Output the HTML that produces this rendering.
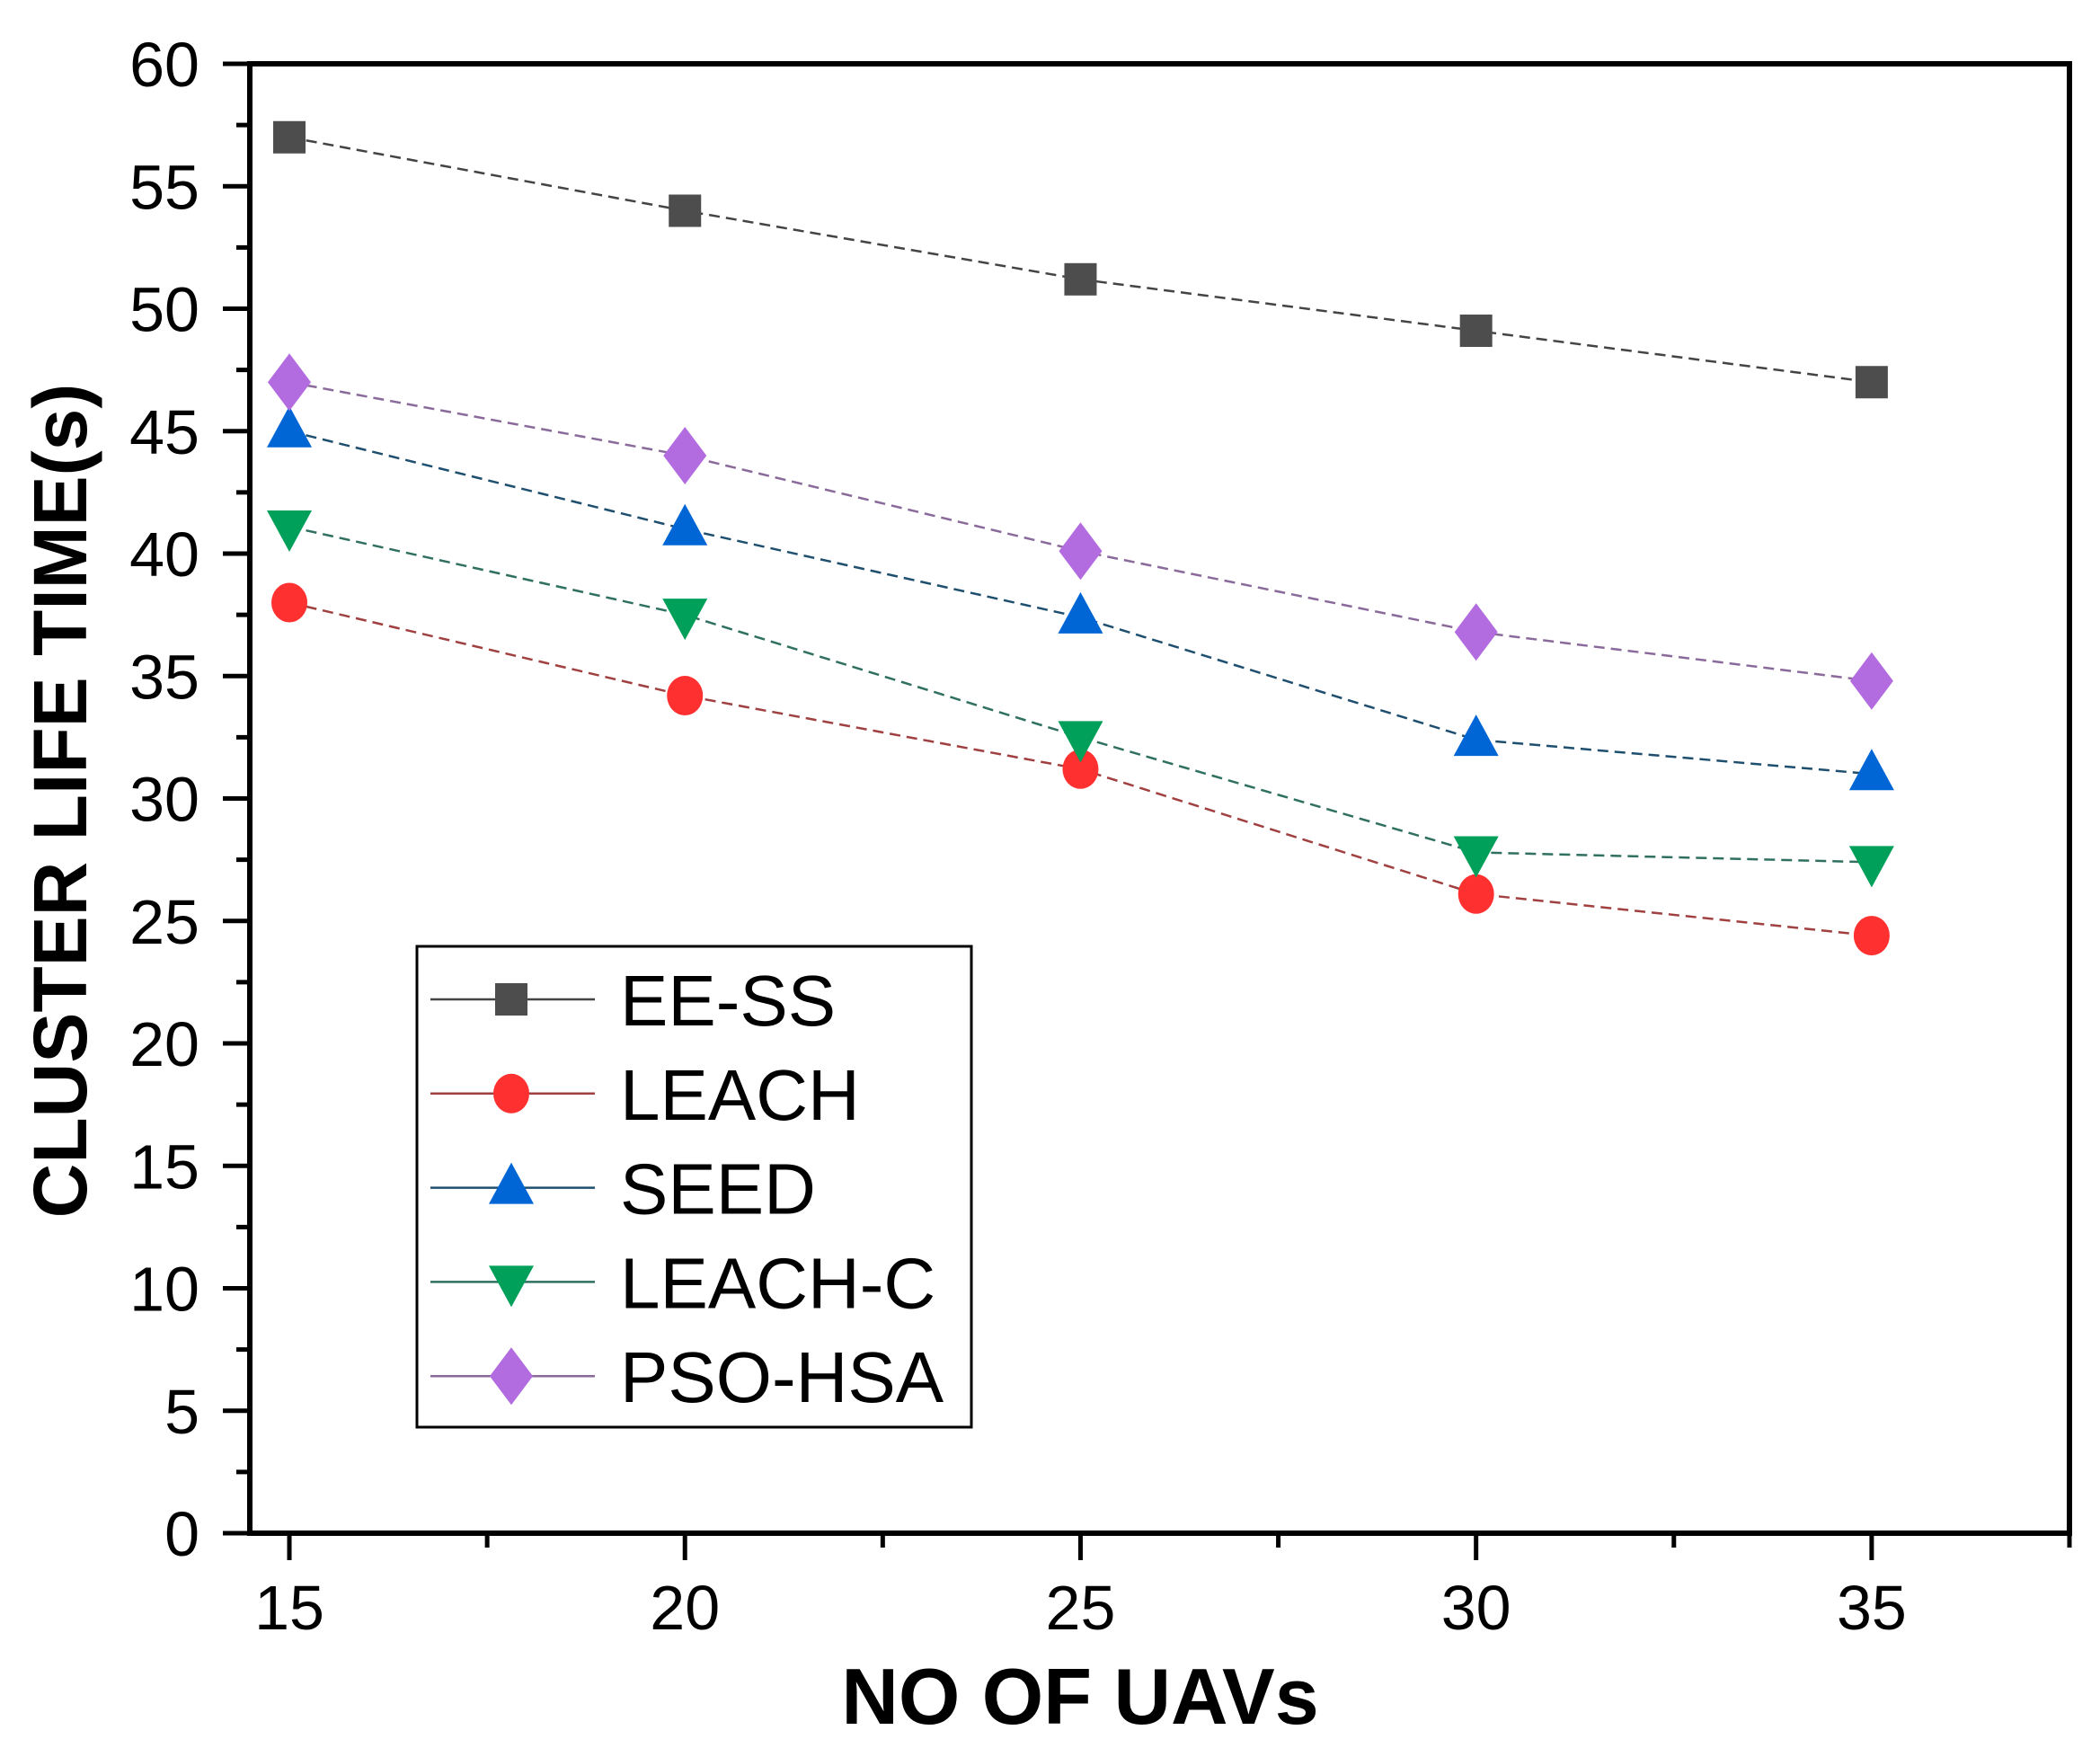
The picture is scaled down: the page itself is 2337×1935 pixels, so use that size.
<!DOCTYPE html>
<html><head><meta charset="utf-8">
<style>
html,body{margin:0;padding:0;background:#fff;}
svg{display:block;}
text{font-family:"Liberation Sans",Arial,sans-serif;}
</style></head>
<body>
<svg id="chart" width="2337" height="1935" viewBox="0 0 2337 1935" xmlns="http://www.w3.org/2000/svg">
<rect x="0" y="0" width="2337" height="1935" fill="#fff"/>
<g id="series"></g>
<g id="axes"></g>
<text x="1202" y="1918" font-size="88" font-weight="bold" text-anchor="middle">NO OF UAVs</text>
<text transform="translate(96,891) rotate(-90)" font-size="84" font-weight="bold" text-anchor="middle">CLUSTER LIFE TIME(s)</text>
<g id="legend"></g>
</svg>
<script>
const categories = [15, 20, 25, 30, 35];
const seriesNames = ["EE-SS", "LEACH", "SEED", "LEACH-C", "PSO-HSA"];
const eeSS = [57, 54, 51.2, 49.1, 47];
const leach = [38, 34.2, 31.2, 26.1, 24.4];
const seed = [45, 41, 37.4, 32.4, 31];
const leachC = [41.1, 37.5, 32.5, 27.8, 27.4];
const psoHSA = [47, 44, 40.1, 36.8, 34.8];
const xTicks = [15, 20, 25, 30, 35];
const xMinorTicks = [17.5, 22.5, 27.5, 32.5, 37.5];
const yTicks = [0, 5, 10, 15, 20, 25, 30, 35, 40, 45, 50, 55, 60];

const NS = "http://www.w3.org/2000/svg";
const L = 278, R = 2303, T = 71, B = 1706;
const xMin = 14.5, xMax = 37.5, yMin = 0, yMax = 60;
function xs(v){ return L + (v - xMin) / (xMax - xMin) * (R - L); }
function ys(v){ return B - (v - yMin) / (yMax - yMin) * (B - T); }
function mk(tag, attrs, parent){
  const e = document.createElementNS(NS, tag);
  for (const k in attrs) e.setAttribute(k, attrs[k]);
  parent.appendChild(e);
  return e;
}
const axes = document.getElementById('axes');
const ser = document.getElementById('series');
const leg = document.getElementById('legend');

let fr = mk('rect', {x:L, y:T, width:R-L, height:B-T, fill:'none', stroke:'#000', 'stroke-width':6}, axes);



xTicks.forEach(v => {
  const t = mk('line', {x1:xs(v), x2:xs(v), y1:B, y2:B+30, stroke:'#000', 'stroke-width':5}, axes);
  
  
  const lb = mk('text', {x:xs(v), y:1813, 'font-size':70, 'text-anchor':'middle'}, axes);
  lb.textContent = v;
  
  
});
xMinorTicks.forEach(v => {
  const t = mk('line', {x1:xs(v), x2:xs(v), y1:B, y2:B+16, stroke:'#000', 'stroke-width':5}, axes);
  
  
});
yTicks.forEach(v => {
  const t = mk('line', {x1:L-30, x2:L, y1:ys(v), y2:ys(v), stroke:'#000', 'stroke-width':5}, axes);
  
  
  const lb = mk('text', {x:222, y:ys(v)+25, 'font-size':70, 'text-anchor':'end'}, axes);
  lb.textContent = v;
  
  
  if (v < 60) {
    const m = mk('line', {x1:L-15, x2:L, y1:ys(v+2.5), y2:ys(v+2.5), stroke:'#000', 'stroke-width':5}, axes);
    
    
  }
});

const seriesData = [eeSS, leach, seed, leachC, psoHSA];
const fills = ['#4d4d4d', '#ff3030', '#0066d6', '#00a05a', '#b36ce0'];
const strokes = ['#444', '#a04040', '#1f4f6f', '#2f7060', '#8a6a9a'];
const shapes = ['square', 'circle', 'up', 'down', 'diamond'];

function marker(shape, cx, cy, fill, parent){
  if (shape === 'square') return mk('rect', {x:cx-18, y:cy-18, width:36, height:36, fill:fill}, parent);
  if (shape === 'circle') return mk('ellipse', {cx:cx, cy:cy, rx:20, ry:22, fill:fill}, parent);
  if (shape === 'up') return mk('polygon', {points:`${cx-25},${cy+18} ${cx+25},${cy+18} ${cx},${cy-28}`, fill:fill}, parent);
  if (shape === 'down') return mk('polygon', {points:`${cx-25},${cy-18} ${cx+25},${cy-18} ${cx},${cy+28}`, fill:fill}, parent);
  return mk('polygon', {points:`${cx},${cy-32} ${cx+24},${cy} ${cx},${cy+32} ${cx-24},${cy}`, fill:fill}, parent);
}

seriesData.forEach((vals, i) => {
  const g = mk('g', {}, ser);
  
  
  const pts = vals.map((v, j) => xs(categories[j]) + ',' + ys(v)).join(' ');
  const pl = mk('polyline', {points:pts, fill:'none', stroke:strokes[i], 'stroke-width':2.5, 'stroke-dasharray':'12,7'}, g);
  
  
  vals.forEach((v, j) => {
    const m = marker(shapes[i], xs(categories[j]), ys(v), fills[i], g);
    
    
  });
});

const lb = mk('rect', {x:464, y:1053, width:617, height:535, fill:'#fff', stroke:'#000', 'stroke-width':3}, leg);


seriesNames.forEach((n, i) => {
  const cy = 1112 + i * 104.8;
  const g = mk('g', {}, leg);
  
  
  mk('line', {x1:479, x2:662, y1:cy, y2:cy, stroke:strokes[i], 'stroke-width':2.5}, g);
  marker(shapes[i], 569, cy, fills[i], g);
  const t = mk('text', {x:690, y:cy+29, 'font-size':80}, g);
  t.textContent = n;
});
</script>
</body></html>
